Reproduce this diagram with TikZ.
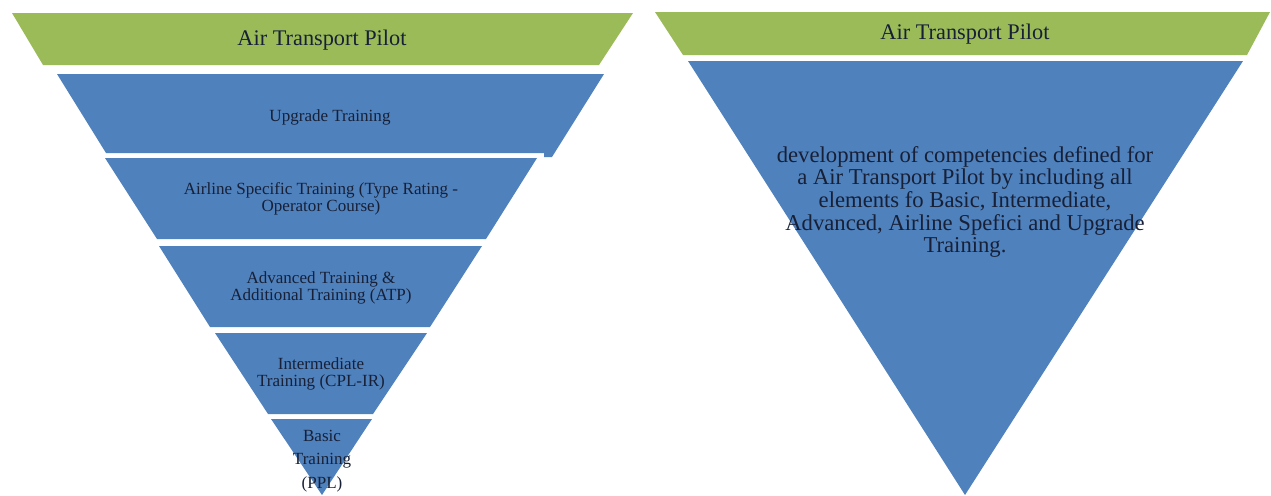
\documentclass[tikz,border=0pt]{standalone}
\usepackage{fontspec}
\setmainfont{Liberation Serif}

\definecolor{atpgreen}{HTML}{9BBB59}
\definecolor{stageblue}{HTML}{4F81BD}
\definecolor{labelink}{HTML}{172036}

\newcommand{\titlefont}{\fontsize{12.7}{12.7}\selectfont}
\newcommand{\stagefont}{\fontsize{9.7}{9.7}\selectfont}
\newcommand{\basicfont}{\fontsize{9.7}{13.3}\selectfont}
\newcommand{\summaryfont}{\fontsize{12.9}{12.9}\selectfont}

\tikzstyle{greenband}=[fill=atpgreen,draw=none]
\tikzstyle{blueband}=[fill=stageblue,draw=none]
\tikzstyle{title}=[fill=none,text=labelink,draw=none,font=\titlefont]
\tikzstyle{stage}=[fill=none,text=labelink,draw=none,align=center,font=\stagefont]
\tikzstyle{summary}=[fill=none,text=labelink,draw=none,align=center,font=\summaryfont]

\begin{document}
\begin{tikzpicture}[x=0.02cm,y=-0.02cm]
\useasboundingbox (0,0) rectangle (1271,495);

% left funnel
\fill [greenband] (12,13) -- (633,13) -- (599,65) -- (43,65) -- cycle;
\fill [blueband] (57,74) -- (604,74) -- (552,157) -- (544,157) -- (544,153) -- (106,153) -- cycle;
\fill [blueband] (105,158) -- (537,158) -- (486,239) -- (157,239) -- cycle;
\fill [blueband] (159,246) -- (482,246) -- (430,327) -- (210,327) -- cycle;
\fill [blueband] (215,333) -- (427,333) -- (373,414) -- (268,414) -- cycle;
\fill [blueband] (271,419) -- (372,419) -- (322,495) -- cycle;

\node [title] (lefttitle) at (322,40) {Air Transport Pilot};
\node [stage] (upgrade) at (330,117) {Upgrade Training};
\node [stage] (airline) at (321,199) {Airline Specific Training (Type Rating -\\Operator Course)};
\node [stage] (advanced) at (321,288) {Advanced Training \&\\Additional Training (ATP)};
\node [stage] (intermediate) at (321,374) {Intermediate\\Training (CPL-IR)};
\node [stage, font=\basicfont] (basic) at (322,461) {Basic\\Training\\(PPL)};

% right funnel
\fill [greenband] (655,12) -- (1270,12) -- (1247,55) -- (683,55) -- cycle;
\fill [blueband] (688,61) -- (1243,61) -- (965,495) -- cycle;

\node [title] (righttitle) at (965,34) {Air Transport Pilot};
\node [summary] (summary) at (965,202) {development of competencies defined for\\a Air Transport Pilot by including all\\elements fo Basic, Intermediate,\\Advanced, Airline Spefici and Upgrade\\Training.};
\end{tikzpicture}
\end{document}
